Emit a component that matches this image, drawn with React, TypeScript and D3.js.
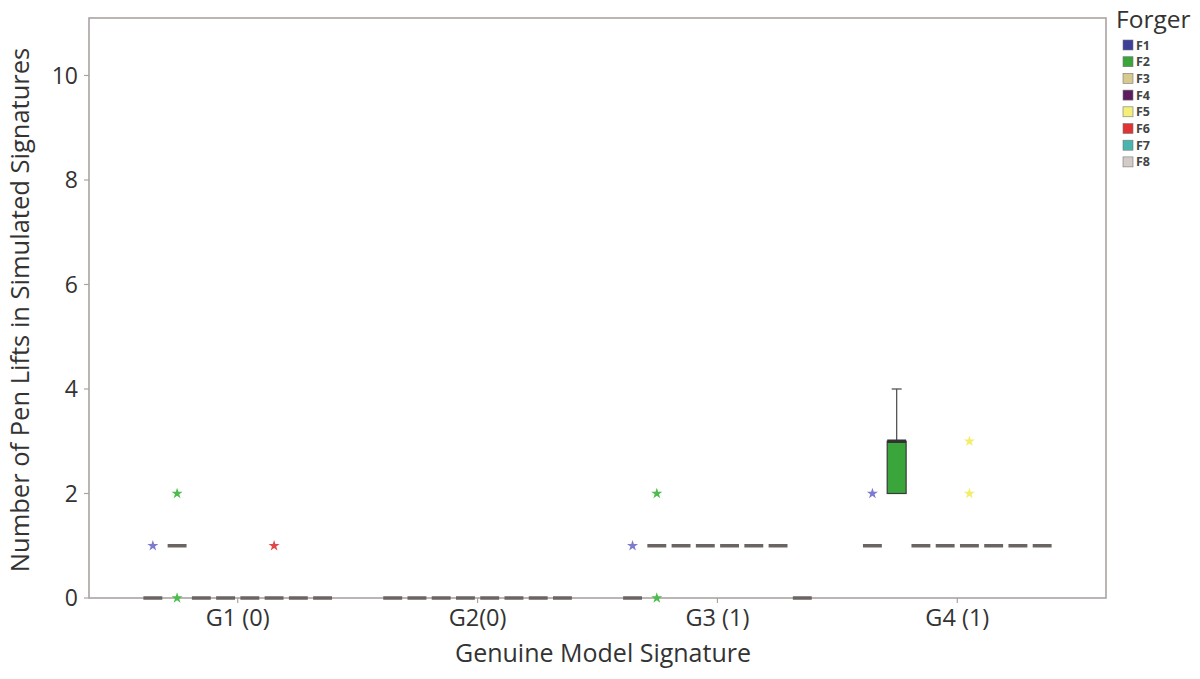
import * as d3 from 'd3';

// groups on the x axis and forgers inside each group
const groups = ['G1 (0)', 'G2(0)', 'G3 (1)', 'G4 (1)'];
const forgers = ['F1', 'F2', 'F3', 'F4', 'F5', 'F6', 'F7', 'F8'];
const forgerColors = ['#3d3f98', '#3aa53a', '#d6ca8e', '#5c1c5e', '#f4ef78', '#e03434', '#48b6ae', '#d2cbc8'];
const starColors = ['#7b7bd0', '#4cbc4c', '#d6ca8e', '#7a3a7c', '#f2ee6a', '#e04848', '#48b6ae', '#c8c0bc'];

// median pen lifts per forger, one row per group
const medians = [
  [0, 1, 0, 0, 0, 0, 0, 0],
  [0, 0, 0, 0, 0, 0, 0, 0],
  [0, 1, 1, 1, 1, 1, 1, 0],
  [1, 3, 1, 1, 1, 1, 1, 1],
];

// the only non-collapsed box: [group, forger, q1, q3, whiskerHigh]
const boxes: [string, string, number, number, number][] = [['G4 (1)', 'F2', 2, 3, 4]];

// outliers: [group, forger, value]
const outliers: [string, string, number][] = [
  ['G1 (0)', 'F1', 1],
  ['G1 (0)', 'F2', 2],
  ['G1 (0)', 'F2', 0],
  ['G1 (0)', 'F6', 1],
  ['G3 (1)', 'F1', 1],
  ['G3 (1)', 'F2', 2],
  ['G3 (1)', 'F2', 0],
  ['G4 (1)', 'F1', 2],
  ['G4 (1)', 'F5', 3],
  ['G4 (1)', 'F5', 2],
];

const yTicks = [0, 2, 4, 6, 8, 10];

export default function App() {
  const width = 1200;
  const height = 679;
  const m = { left: 89, right: 1106, top: 18, bottom: 598 };
  const font = "'Open Sans', sans-serif";

  const x = d3.scalePoint<string>().domain(groups).range([m.left, m.right]).padding(0.62);
  const inner = d3.scaleBand<string>().domain(forgers).range([-97, 97]);
  const y = d3.scaleLinear().domain([0, 11.1]).range([m.bottom, m.top]);
  const bw = inner.bandwidth();
  const cx = (g: string, f: string) => (x(g) as number) + (inner(f) as number) + bw / 2;
  const dashW = bw * 0.78;
  const star = d3.symbol().type(d3.symbolStar).size(38)();
  const fi = (f: string) => forgers.indexOf(f);

  return (
    <div style={{ position: 'absolute', left: 0, top: 0 }}>
      <svg width={width} height={height} style={{ display: 'block', background: '#fff' }}>
        {/* frame */}
        <rect x={m.left} y={m.top} width={m.right - m.left} height={m.bottom - m.top}
          fill="none" stroke="#aaa4a0" strokeWidth={1.6} />

        {/* y axis */}
        {yTicks.map(t => (
          <g key={t} transform={`translate(0,${y(t)})`}>
            <line x1={m.left - 5} x2={m.left} stroke="#aaa4a0" strokeWidth={1.2} />
            <text x={m.left - 11} dy="0.36em" textAnchor="end" fontFamily={font} fontSize={23} fill="#333">{t}</text>
          </g>
        ))}
        <text transform={`translate(29,${310}) rotate(-90)`} textAnchor="middle"
          fontFamily={font} fontSize={25.5} fill="#333">Number of Pen Lifts in Simulated Signatures</text>

        {/* x axis */}
        {groups.map(g => (
          <g key={g} transform={`translate(${x(g)},0)`}>
            <line y1={m.bottom} y2={m.bottom + 5} stroke="#aaa4a0" strokeWidth={1.2} />
            <text y={m.bottom + 28} textAnchor="middle" fontFamily={font} fontSize={23.5} fill="#333">{g}</text>
          </g>
        ))}
        <text x={603} y={662} textAnchor="middle" fontFamily={font} fontSize={25} fill="#333">Genuine Model Signature</text>

        {/* boxes */}
        {boxes.map(([g, f, q1, q3, hi]) => {
          const c = cx(g, f);
          return (
            <g key={g + f}>
              <line x1={c} x2={c} y1={y(q3)} y2={y(hi)} stroke="#555" strokeWidth={1.3} />
              <line x1={c - 5} x2={c + 5} y1={y(hi)} y2={y(hi)} stroke="#555" strokeWidth={1.3} />
              <rect x={c - dashW / 2} y={y(q3)} width={dashW} height={y(q1) - y(q3)}
                fill={forgerColors[fi(f)]} stroke="#3a3a3a" strokeWidth={1.2} />
            </g>
          );
        })}

        {/* medians (collapsed boxes) */}
        {groups.map((g, gi) => forgers.map((f, k) => (
          <line key={g + f} x1={cx(g, f) - dashW / 2} x2={cx(g, f) + dashW / 2}
            y1={y(medians[gi][k])} y2={y(medians[gi][k])}
            stroke={medians[gi][k] === 3 ? '#333' : '#6a6562'} strokeWidth={3.5} />
        )))}

        {/* outliers */}
        {outliers.map(([g, f, v], i) => (
          <path key={i} d={star as string} transform={`translate(${cx(g, f)},${y(v)})`} fill={starColors[fi(f)]} />
        ))}

        {/* legend */}
        <text x={1116} y={28} fontFamily={font} fontSize={24.5} fill="#333">Forger</text>
        {forgers.map((f, k) => (
          <g key={f} transform={`translate(1123,${40 + k * 16.7})`}>
            <rect width={10} height={10} fill={forgerColors[k]} stroke="#777" strokeWidth={0.6} />
            <text x={13} y={9.5} fontFamily={font} fontSize={12.5} fontWeight={700} fill="#444">{f}</text>
          </g>
        ))}
      </svg>
    </div>
  );
}
